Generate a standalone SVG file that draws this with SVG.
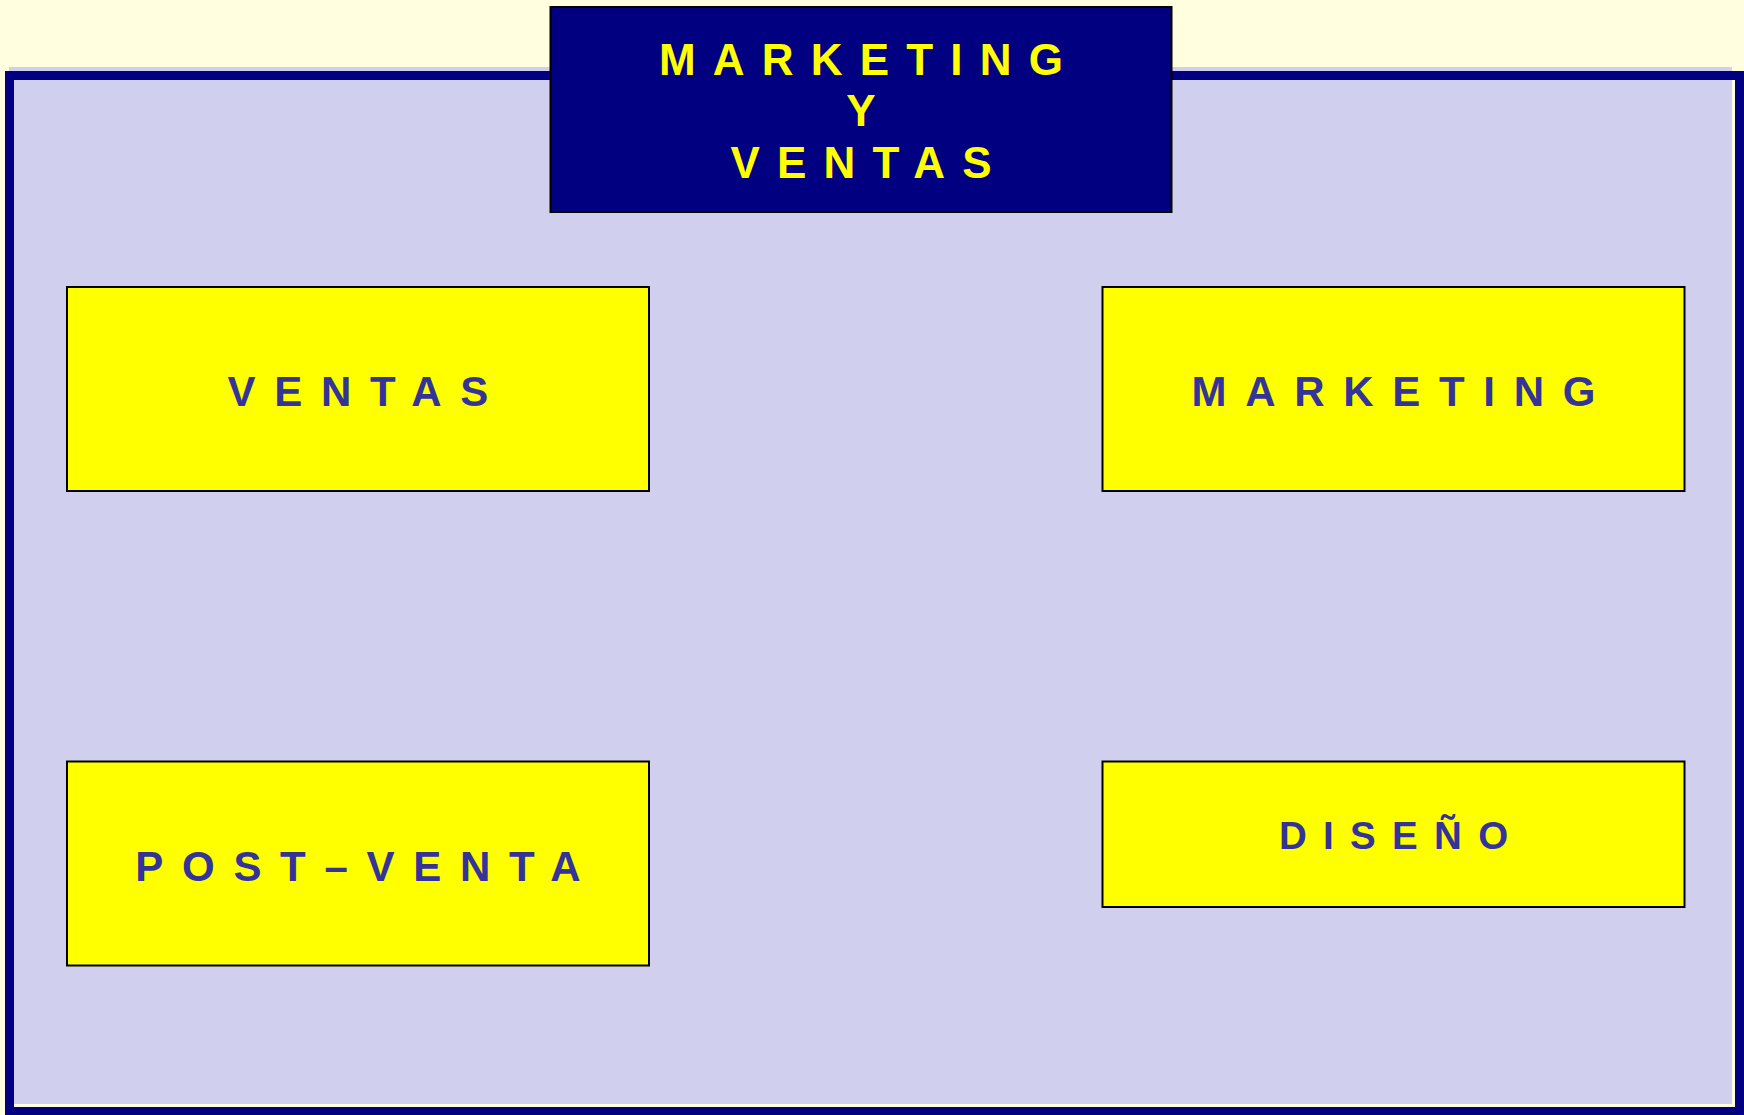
<svg xmlns="http://www.w3.org/2000/svg" width="1744" height="1115" viewBox="0 0 1744 1115">
<style>
.box{fill:#FFFF00;stroke:#000000;stroke-width:2}
.lbl{font-family:"Liberation Sans",Arial,sans-serif;font-weight:bold;fill:#333399;text-anchor:middle}
.hdr{font-family:"Liberation Sans",Arial,sans-serif;font-weight:bold;fill:#FFFF00;text-anchor:middle;font-size:44px;letter-spacing:17.2px}
</style>
<rect x="0" y="0" width="1744" height="1115" fill="#FFFFE0"/>
<g id="panel">
<rect x="9" y="67" width="1723" height="1037" fill="#D0D0EE"/>
<rect x="9.5" y="75.5" width="1730" height="1036" fill="none" stroke="#000080" stroke-width="9"/>
</g>
<g id="connectors"></g>
<g id="header">
<rect x="550.5" y="7" width="621" height="205" fill="#000080" stroke="#000000" stroke-width="2"/>
<text class="hdr" x="869.6" y="75">MARKETING</text>
<text class="hdr" x="869.6" y="126">Y</text>
<text class="hdr" x="869.6" y="178">VENTAS</text>
</g>
<g id="ventas">
<rect class="box" x="67" y="287" width="582" height="204"/>
<text class="lbl" x="367.3" y="406" font-size="42" letter-spacing="18.7">VENTAS</text>
</g>
<g id="marketing">
<rect class="box" x="1102.5" y="287" width="582" height="204"/>
<text class="lbl" x="1402.8" y="406" font-size="42" letter-spacing="18.7">MARKETING</text>
</g>
<g id="postventa">
<rect class="box" x="67" y="761.5" width="582" height="204"/>
<text class="lbl" x="367.3" y="881" font-size="42" letter-spacing="18.7">POST–VENTA</text>
</g>
<g id="diseno">
<rect class="box" x="1102.5" y="761.5" width="582" height="145.5"/>
<text class="lbl" x="1401.7" y="849" font-size="38.5" letter-spacing="16.3">DISEÑO</text>
</g>
</svg>
